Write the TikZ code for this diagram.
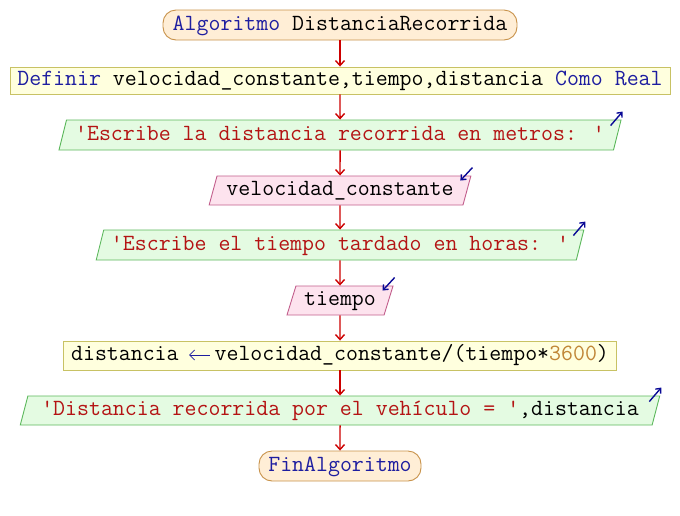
\documentclass[tikz,border=0pt]{standalone}
\usepackage{fontspec}
\usetikzlibrary{shapes.geometric,arrows.meta}

\definecolor{termfill}{HTML}{FFEED6}
\definecolor{termdraw}{HTML}{C8924A}
\definecolor{procfill}{HTML}{FFFFDE}
\definecolor{procdraw}{HTML}{C8C264}
\definecolor{outfill}{HTML}{E4FBE2}
\definecolor{outdraw}{HTML}{5CB85C}
\definecolor{infill}{HTML}{FDE3EE}
\definecolor{indraw}{HTML}{C25E8C}
\definecolor{flowcol}{HTML}{CC0000}
\definecolor{kwcol}{HTML}{1E1EA0}
\definecolor{strcol}{HTML}{B41414}
\definecolor{numcol}{HTML}{C08636}
\definecolor{iocol}{HTML}{0A0A96}

\newcommand{\kw}[1]{\textcolor{kwcol}{#1}}
\newcommand{\str}[1]{\textcolor{strcol}{#1}}
\newcommand{\num}[1]{\textcolor{numcol}{#1}}
\newcommand{\qt}{\textquotesingle}
% assignment arrow, three character cells wide
\newcommand{\assignarrow}{\makebox[36pt][l]{\hspace{10pt}\tikz[baseline=0pt]
  \draw[kwcol, line width=0.8pt, {Straight Barb[length=5pt,width=10pt]}-] (0pt,5.5pt) -- (21pt,5.5pt);}}

\tikzset{
  base/.style={font=\ttfamily\fontsize{23.2}{26}\selectfont, inner sep=0pt,
    line width=0.9pt, text height=14pt, text depth=4pt, minimum height=30},
  term/.style={base, rectangle, rounded corners=13pt, fill=termfill, draw=termdraw},
  proc/.style={base, rectangle, fill=procfill, draw=procdraw},
  outp/.style={base, trapezium, trapezium left angle=68, trapezium right angle=112,
    trapezium stretches=true, fill=outfill, draw=outdraw},
  inp/.style={base, trapezium, trapezium left angle=68, trapezium right angle=112,
    trapezium stretches=true, fill=infill, draw=indraw},
  flow/.style={draw=flowcol, line width=1.4pt, -{Straight Barb[length=5pt,width=9pt]}},
  iomark/.style={draw=iocol, line width=1.4pt, -{Straight Barb[length=4pt,width=7pt]}}
}

\begin{document}
\begin{tikzpicture}[x=1pt,y=-1pt]
  \useasboundingbox (0,0) rectangle (680,515);

  % program blocks, top to bottom
  \node[term, minimum width=354] (start) at (340,25) {\kw{Algoritmo} DistanciaRecorrida};
  \node[proc, minimum width=660, minimum height=27] (def) at (340,80.5)
    {\kw{Definir} velocidad\_constante,tiempo,distancia \kw{Como Real}};
  \node[outp, minimum width=564] (o1) at (340,135)
    {\str{\qt Escribe la distancia recorrida en metros: \qt}};
  \node[inp, minimum width=262, minimum height=29] (i1) at (340,190.5) {velocidad\_constante};
  \node[outp, minimum width=490] (o2) at (340,245)
    {\str{\qt Escribe el tiempo tardado en horas: \qt}};
  \node[inp, minimum width=107, minimum height=29] (i2) at (340,300.5) {tiempo};
  \node[proc, minimum width=553, minimum height=29] (asg) at (340,355.5)
    {distancia\assignarrow velocidad\_constante/(tiempo*\num{3600})};
  \node[outp, minimum width=640, minimum height=29] (o3) at (340,410.5)
    {\str{\qt Distancia recorrida por el vehículo = \qt},distancia};
  \node[term, minimum width=162] (end) at (340,466) {\kw{FinAlgoritmo}};

  % control flow
  \draw[flow] (start) -- (def);
  \draw[flow] (def) -- (o1);
  \draw[flow] (o1) -- (i1);
  \draw[flow] (i1) -- (o2);
  \draw[flow] (o2) -- (i2);
  \draw[flow] (i2) -- (asg);
  \draw[flow] (asg) -- (o3);
  \draw[flow] (o3) -- (end);

  % output / input markers at the upper right corners
  \draw[iomark] ([shift={(-11,6)}]o1.top right corner) -- ([shift={(1,-8)}]o1.top right corner);
  \draw[iomark] ([shift={(-11,6)}]o2.top right corner) -- ([shift={(1,-8)}]o2.top right corner);
  \draw[iomark] ([shift={(-11,6)}]o3.top right corner) -- ([shift={(1,-8)}]o3.top right corner);
  \draw[iomark] ([shift={(1,-8)}]i1.top right corner) -- ([shift={(-11,5)}]i1.top right corner);
  \draw[iomark] ([shift={(1,-8)}]i2.top right corner) -- ([shift={(-11,5)}]i2.top right corner);
\end{tikzpicture}
\end{document}
